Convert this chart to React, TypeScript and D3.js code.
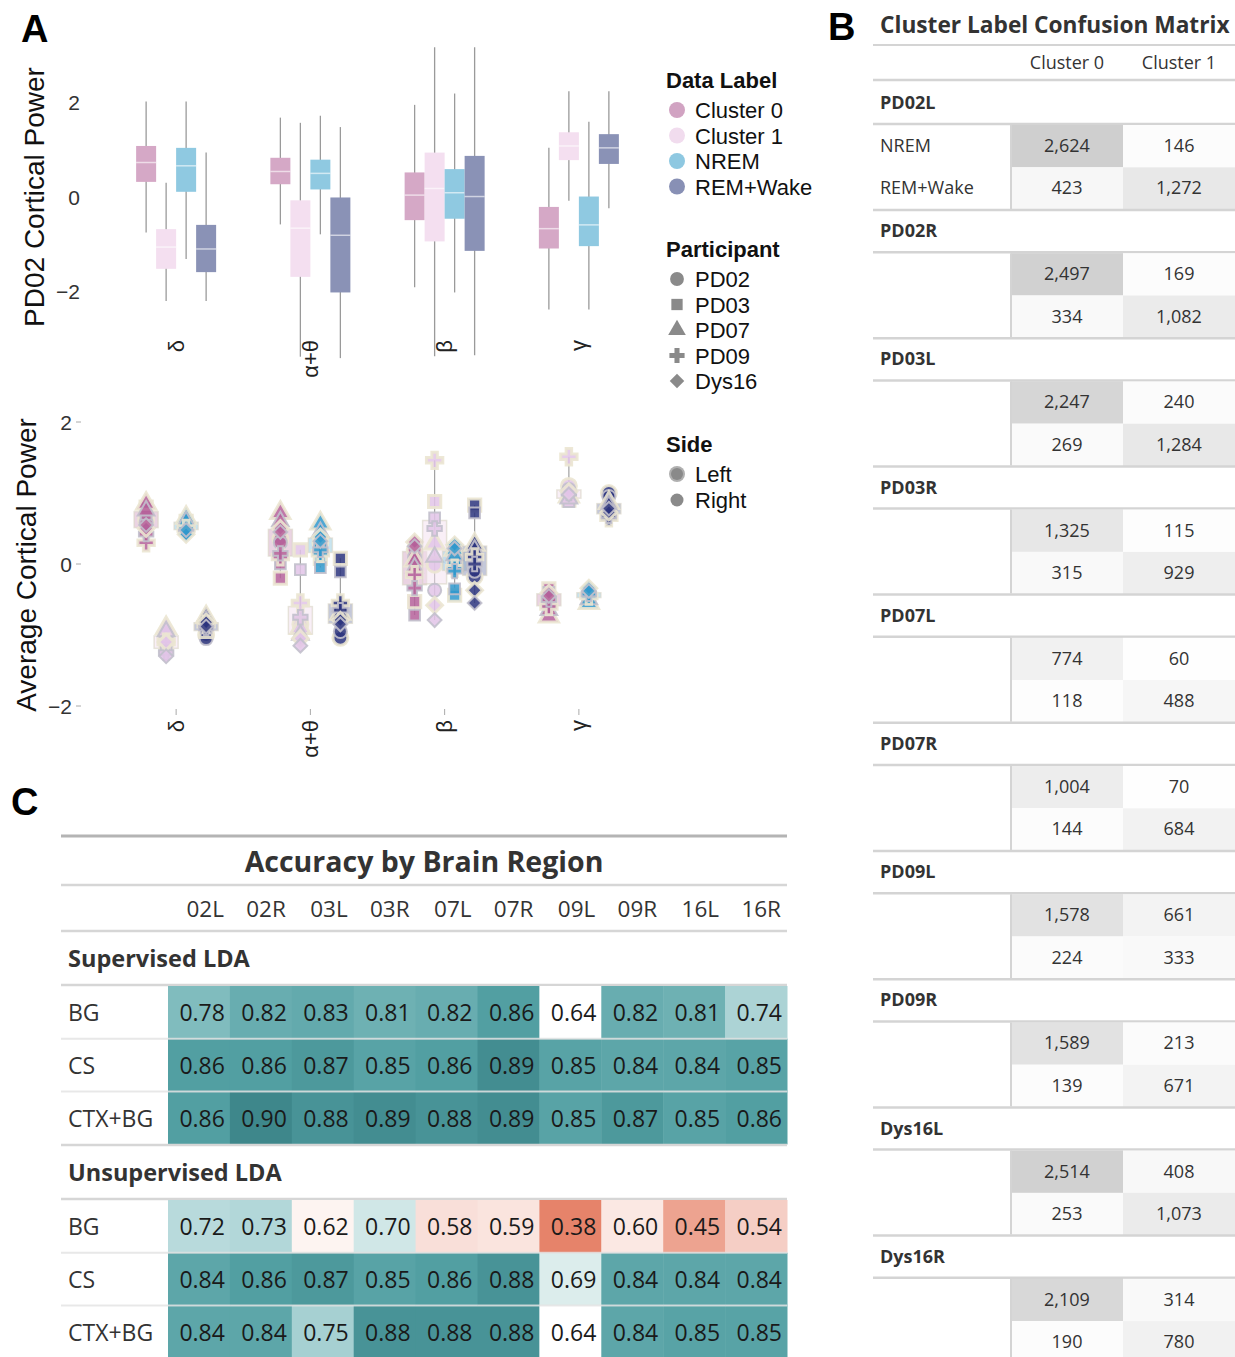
import React from "react";
import * as d3 from "d3";

// ---------- Panel A data ----------
const bands = ["δ", "α+θ", "β", "γ"];
const dataLabels = ["Cluster 0", "Cluster 1", "NREM", "REM+Wake"];
const participants = ["PD02", "PD03", "PD07", "PD09", "Dys16"];
const sides = ["Left", "Right"];
const topTicks = [-2, 0, 2];
const bottomTicks = [-2, 0, 2];

// box stats per band: [whiskerLow, q1, median, q3, whiskerHigh]
const cluster0Box = [[-0.75, 0.32, 0.73, 1.08, 2.02], [-0.58, 0.27, 0.54, 0.83, 1.68], [-1.91, -0.49, 0.04, 0.52, 1.95], [-2.38, -1.09, -0.67, -0.21, 1.04]];
const cluster1Box = [[-2.2, -1.52, -1.06, -0.68, 0.3], [-3.38, -1.69, -0.66, -0.07, 1.57], [-3.37, -0.94, 0.18, 0.94, 3.17], [-0.08, 0.78, 1.08, 1.37, 2.24]];
const nremBox = [[-1.31, 0.11, 0.66, 1.04, 2.02], [-0.79, 0.16, 0.5, 0.79, 1.72], [-2.02, -0.46, 0.09, 0.59, 2.19], [-2.38, -1.04, -0.59, 0.01, 1.59]];
const remBox = [[-2.2, -1.59, -1.1, -0.59, 0.94], [-3.41, -2.02, -0.81, -0.01, 1.48], [-3.35, -1.14, 0.01, 0.87, 3.17], [-0.24, 0.7, 1.04, 1.33, 2.24]];

// averages per band, order: PD02L, PD02R, PD03L, PD03R, PD07L, PD07R, PD09L, PD09R, Dys16L, Dys16R
const cluster0Pts = [
  [0.62, 0.58, 0.8, 0.7, 0.85, 0.75, 0.3, 0.42, 0.5, 0.55],
  [0.35, 0.3, -0.2, 0.0, 0.72, 0.6, 0.1, 0.15, 0.5, 0.45],
  [0.2, 0.1, -0.53, -0.72, 0.05, -0.05, -0.15, -0.34, 0.31, 0.25],
  [-0.5, -0.55, -0.35, -0.4, -0.74, -0.65, -0.6, -0.5, -0.41, -0.45],
];
const cluster1Pts = [
  [-1.0, -1.05, -1.15, -1.2, -0.9, -0.95, -1.1, -1.25, -1.1, -1.3],
  [-0.85, -0.95, 0.2, -0.08, -0.9, -1.0, -0.55, -0.75, -1.05, -1.15],
  [-0.01, -0.37, 0.88, 0.65, 0.29, 0.1, 1.46, 0.5, -0.58, -0.79],
  [1.1, 1.05, 0.9, 0.88, 0.95, 0.92, 1.51, 1.0, 1.02, 0.98],
];
const nremPts = [
  [0.55, 0.5, 0.6, 0.55, 0.65, 0.6, 0.5, 0.45, 0.42, 0.48],
  [0.3, 0.25, 0.08, -0.05, 0.57, 0.45, 0.15, 0.2, 0.38, 0.32],
  [0.05, 0.0, -0.44, -0.35, 0.2, 0.12, -0.06, -0.1, 0.27, 0.22],
  [-0.45, -0.48, -0.42, -0.4, -0.55, -0.5, -0.45, -0.42, -0.34, -0.38],
];
const remPts = [
  [-1.0, -1.05, -0.95, -0.9, -0.75, -0.8, -0.85, -0.9, -0.82, -0.88],
  [-1.04, -0.95, 0.08, -0.11, -0.7, -0.6, -0.55, -0.65, -0.79, -0.85],
  [-0.18, -0.1, 0.83, 0.72, 0.27, 0.2, 0.1, 0.0, -0.37, -0.55],
  [1.0, 0.95, 0.75, 0.7, 0.86, 0.82, 0.65, 0.68, 0.73, 0.78],
];

// ---------- Panel B data ----------
const matrixGroups = ["PD02L", "PD02R", "PD03L", "PD03R", "PD07L", "PD07R", "PD09L", "PD09R", "Dys16L", "Dys16R"];
const matrixRows = ["NREM", "REM+Wake"];
const matrixCols = ["Cluster 0", "Cluster 1"];
const nremCounts = [[2624, 146], [2497, 169], [2247, 240], [1325, 115], [774, 60], [1004, 70], [1578, 661], [1589, 213], [2514, 408], [2109, 314]];
const remWakeCounts = [[423, 1272], [334, 1082], [269, 1284], [315, 929], [118, 488], [144, 684], [224, 333], [139, 671], [253, 1073], [190, 780]];

// ---------- Panel C data ----------
const regions = ["02L", "02R", "03L", "03R", "07L", "07R", "09L", "09R", "16L", "16R"];
const methods = ["Supervised LDA", "Unsupervised LDA"];
const features = ["BG", "CS", "CTX+BG"];
const supBG = [0.78, 0.82, 0.83, 0.81, 0.82, 0.86, 0.64, 0.82, 0.81, 0.74];
const supCS = [0.86, 0.86, 0.87, 0.85, 0.86, 0.89, 0.85, 0.84, 0.84, 0.85];
const supCTX = [0.86, 0.9, 0.88, 0.89, 0.88, 0.89, 0.85, 0.87, 0.85, 0.86];
const unsBG = [0.72, 0.73, 0.62, 0.7, 0.58, 0.59, 0.38, 0.6, 0.45, 0.54];
const unsCS = [0.84, 0.86, 0.87, 0.85, 0.86, 0.88, 0.69, 0.84, 0.84, 0.84];
const unsCTX = [0.84, 0.84, 0.75, 0.88, 0.88, 0.88, 0.64, 0.84, 0.85, 0.85];

// ---------- styles ----------
const boxColors = ["#d5a8c6", "#f4dff0", "#8fc9e1", "#8a92b6"];
const markColors = ["#b5609a", "#e2c4e8", "#2f98cc", "#2b347e"];
const legendColors = ["#d1a3c2", "#f1dcee", "#8ec8e1", "#8890b5"];
const symbolTypes = [d3.symbolCircle, d3.symbolSquare, d3.symbolTriangle, d3.symbolCross, d3.symbolSquare];
const symbolRot = [0, 0, 0, 0, 45];
const symbolScale = [1, 0.85, 0.9, 0.85, 0.7];
const fontA = "'Liberation Sans', Arial, sans-serif";
const fontB = "'Open Sans', 'Noto Sans', sans-serif";

const boxData = [cluster0Box, cluster1Box, nremBox, remBox];
const ptsData = [cluster0Pts, cluster1Pts, nremPts, remPts];

const accColor = d3
  .scaleLinear<string>()
  .domain([0.38, 0.45, 0.54, 0.6, 0.64, 0.69, 0.72, 0.75, 0.78, 0.82, 0.86, 0.9])
  .range(["#e6836a", "#eda390", "#f5cec5", "#fbe8e3", "#ffffff", "#dcedec", "#b8dadc", "#a6d0d2", "#80bcbe", "#68adb0", "#529fa2", "#3e878b"])
  .clamp(true);

function PanelA() {
  const xBand = d3.scaleBand().domain(bands).range([109, 646]);
  const xSub = d3.scaleBand().domain(dataLabels).range([-40, 40]);
  const yTop = d3.scaleLinear().domain([-2, 2]).range([291.5, 102.5]);
  const yBot = d3.scaleLinear().domain([-2, 2]).range([706, 422]);
  const fmt = d3.format("d");
  const bw = xSub.bandwidth();
  const cxOf = (b: string, l: string) => (xBand(b) as number) + xBand.bandwidth() / 2 + (xSub(l) as number) + bw / 2;
  const bandC = (b: string) => (xBand(b) as number) + xBand.bandwidth() / 2;

  return (
    <g fontFamily={fontA}>
      <text x={21} y={42} fontSize={38} fontWeight="bold" fill="#000">A</text>
      {/* top y label */}
      <text transform={`translate(44,197) rotate(-90)`} textAnchor="middle" fontSize={28} fill="#111">PD02 Cortical Power</text>
      {topTicks.map((t) => (
        <text key={t} x={80} y={yTop(t) + 7.5} textAnchor="end" fontSize={21} fill="#333">{fmt(t)}</text>
      ))}
      {/* boxes */}
      {dataLabels.map((l, li) =>
        bands.map((b, bi) => {
          const [lo, q1, med, q3, hi] = boxData[li][bi];
          const cx = cxOf(b, l);
          return (
            <g key={l + b}>
              <line x1={cx} x2={cx} y1={yTop(hi)} y2={yTop(lo)} stroke="#9a9a9a" strokeWidth={1.3} />
              <rect x={cx - bw / 2} y={yTop(q3)} width={bw} height={yTop(q1) - yTop(q3)} fill={boxColors[li]} />
              <line x1={cx - bw / 2} x2={cx + bw / 2} y1={yTop(med)} y2={yTop(med)} stroke="#ffffff" strokeOpacity={0.6} strokeWidth={1.5} />
            </g>
          );
        })
      )}
      {bands.map((b) => (
        <text key={b} transform={`translate(${bandC(b)},340) rotate(-90)`} textAnchor="end" dominantBaseline="central" fontSize={22} fill="#222">{b}</text>
      ))}

      {/* bottom */}
      <text transform={`translate(36,565) rotate(-90)`} textAnchor="middle" fontSize={28} fill="#111">Average Cortical Power</text>
      {bottomTicks.map((t) => (
        <g key={t}>
          <text x={72} y={yBot(t) + 7.5} textAnchor="end" fontSize={21} fill="#333">{fmt(t)}</text>
          <line x1={76} x2={81} y1={yBot(t)} y2={yBot(t)} stroke="#aaa" strokeWidth={1} />
        </g>
      ))}
      {bands.map((b) => (
        <g key={b}>
          <line x1={bandC(b)} x2={bandC(b)} y1={709} y2={715} stroke="#aaa" strokeWidth={1} />
          <text transform={`translate(${bandC(b)},720) rotate(-90)`} textAnchor="end" dominantBaseline="central" fontSize={22} fill="#222">{b}</text>
        </g>
      ))}
      {dataLabels.map((l, li) =>
        bands.map((b, bi) => {
          const pts = ptsData[li][bi];
          const sorted = [...pts].sort(d3.ascending);
          const q1 = d3.quantile(sorted, 0.25) as number;
          const q3 = d3.quantile(sorted, 0.75) as number;
          const cx = cxOf(b, l);
          return (
            <g key={l + b}>
              <line x1={cx} x2={cx} y1={yBot(d3.max(pts) as number)} y2={yBot(d3.min(pts) as number)} stroke="#a0a0a0" strokeWidth={1.2} />
              <rect x={cx - 12} y={yBot(q3)} width={24} height={yBot(q1) - yBot(q3)} fill={boxColors[li]} fillOpacity={0.5} stroke="#d8d4c4" strokeOpacity={0.6} strokeWidth={1.5} />
              {pts.map((v, i) => {
                const pi = Math.floor(i / 2);
                const left = i % 2 === 0;
                const path = d3.symbol().type(symbolTypes[pi]).size((left ? 175 : 135) * symbolScale[pi])() as string;
                return (
                  <path
                    key={i}
                    d={path}
                    transform={`translate(${cx},${yBot(v)}) rotate(${symbolRot[pi]})`}
                    fill={markColors[li]}
                    fillOpacity={0.85}
                    stroke={left ? "#ebe5d2" : "#c2c0cc"}
                    strokeWidth={left ? 3 : 2}
                    strokeOpacity={0.9}
                  />
                );
              })}
            </g>
          );
        })
      )}

      {/* legend */}
      <g>
        <text x={666} y={88} fontSize={22} fontWeight="bold" fill="#111">Data Label</text>
        {dataLabels.map((l, i) => {
          const y = 110 + i * 25.5;
          return (
            <g key={l}>
              <circle cx={677} cy={y} r={8} fill={legendColors[i]} />
              <text x={695} y={y + 8} fontSize={22} fill="#111">{l}</text>
            </g>
          );
        })}
        <text x={666} y={257} fontSize={22} fontWeight="bold" fill="#111">Participant</text>
        {participants.map((p, i) => {
          const y = 279 + i * 25.5;
          const path = d3.symbol().type(symbolTypes[i]).size(150 * symbolScale[i])() as string;
          return (
            <g key={p}>
              <path d={path} transform={`translate(677,${y}) rotate(${symbolRot[i]})`} fill="#8a8a8a" />
              <text x={695} y={y + 8} fontSize={22} fill="#111">{p}</text>
            </g>
          );
        })}
        <text x={666} y={452} fontSize={22} fontWeight="bold" fill="#111">Side</text>
        {sides.map((s, i) => {
          const y = 474 + i * 26;
          return (
            <g key={s}>
              {i === 0 ? (
                <>
                  <circle cx={677} cy={y} r={8} fill="#b0b0b0" />
                  <circle cx={677} cy={y} r={6} fill="#8a8a8a" />
                </>
              ) : (
                <circle cx={677} cy={y} r={6.5} fill="#8a8a8a" />
              )}
              <text x={695} y={y + 8} fontSize={22} fill="#111">{s}</text>
            </g>
          );
        })}
      </g>
    </g>
  );
}

function PanelB() {
  const left = 873;
  const right = 1235;
  const colX = d3.scaleBand().domain(matrixCols).range([1011, 1235]);
  const blockY = d3.scaleBand().domain(matrixGroups).range([81, 81 + 128.2 * matrixGroups.length]);
  const allVals = [...nremCounts.flat(), ...remWakeCounts.flat()];
  const grey = d3.scaleLinear<string>().domain([0, d3.max(allVals) as number]).range(["#ffffff", "#cfcfcf"]);
  const fmt = d3.format(",");
  const lineC = "#d4d4d4";
  return (
    <g fontFamily={fontB}>
      <text x={828} y={40} fontSize={38} fontWeight="bold" fill="#000" fontFamily={fontA}>B</text>
      <text x={880} y={33} fontSize={22.7} fontWeight="bold" fill="#333">Cluster Label Confusion Matrix</text>
      <line x1={left} x2={right} y1={45} y2={45} stroke={lineC} strokeWidth={2} />
      {matrixCols.map((c) => (
        <text key={c} x={(colX(c) as number) + colX.bandwidth() / 2} y={69} textAnchor="middle" fontSize={18} fill="#333">{c}</text>
      ))}
      <line x1={left} x2={right} y1={80} y2={80} stroke={lineC} strokeWidth={2.5} />
      {matrixGroups.map((g, gi) => {
        const y0 = blockY(g) as number;
        const rows = [nremCounts[gi], remWakeCounts[gi]];
        return (
          <g key={g}>
            <text x={880} y={y0 + 28} fontSize={18} fontWeight="bold" fill="#333">{g}</text>
            <line x1={left} x2={right} y1={y0 + 43} y2={y0 + 43} stroke={lineC} strokeWidth={2.5} />
            {rows.map((vals, ri) => {
              const ry = y0 + 44 + ri * 42.3;
              return (
                <g key={ri}>
                  {gi === 0 && (
                    <text x={880} y={ry + 27} fontSize={18} fill="#333">{matrixRows[ri]}</text>
                  )}
                  {matrixCols.map((c, ci) => (
                    <g key={c}>
                      <rect x={colX(c) as number} y={ry} width={colX.bandwidth()} height={42.3} fill={grey(vals[ci])} />
                      <text x={(colX(c) as number) + colX.bandwidth() / 2} y={ry + 27} textAnchor="middle" fontSize={18} fill="#333">{fmt(vals[ci])}</text>
                    </g>
                  ))}
                </g>
              );
            })}
            <line x1={1011} x2={1011} y1={y0 + 44} y2={y0 + 128} stroke={lineC} strokeWidth={2} />
            <line x1={left} x2={right} y1={y0 + 129} y2={y0 + 129} stroke={lineC} strokeWidth={2.5} />
          </g>
        );
      })}
    </g>
  );
}

function PanelC() {
  const left = 61;
  const right = 787;
  const colX = d3.scaleBand().domain(regions).range([168, 787]);
  const sectionData = [
    [supBG, supCS, supCTX],
    [unsBG, unsCS, unsCTX],
  ];
  const sectionTop = [931, 1145];
  const rowH = 52.8;
  const lineC = "#d6d6d6";
  return (
    <g fontFamily={fontB}>
      <text x={11} y={815} fontSize={38} fontWeight="bold" fill="#000" fontFamily={fontA}>C</text>
      <line x1={left} x2={right} y1={836} y2={836} stroke="#b4b4b4" strokeWidth={3} />
      <text x={424} y={872} textAnchor="middle" fontSize={28.5} fontWeight="bold" fill="#333">Accuracy by Brain Region</text>
      <line x1={left} x2={right} y1={885} y2={885} stroke={lineC} strokeWidth={2.5} />
      {regions.map((r) => (
        <text key={r} x={(colX(r) as number) + colX.bandwidth() - 6} y={917} textAnchor="end" fontSize={22.5} fill="#333">{r}</text>
      ))}
      {methods.map((m, mi) => {
        const t = sectionTop[mi];
        return (
          <g key={m}>
            <line x1={left} x2={right} y1={t} y2={t} stroke={lineC} strokeWidth={2.5} />
            <text x={68} y={t + 36} fontSize={23.5} fontWeight="bold" fill="#333">{m}</text>
            <line x1={left} x2={right} y1={t + 54} y2={t + 54} stroke={lineC} strokeWidth={2.5} />
            {features.map((f, fi) => {
              const ry = t + 55 + fi * rowH;
              const vals = sectionData[mi][fi];
              return (
                <g key={f}>
                  {regions.map((r, ci) => (
                    <rect key={r} x={colX(r) as number} y={ry} width={colX.bandwidth() + 0.5} height={rowH} fill={accColor(vals[ci])} />
                  ))}
                  <text x={68} y={ry + 35} fontSize={23} fill="#333">{f}</text>
                  {regions.map((r, ci) => (
                    <text key={r} x={(colX(r) as number) + colX.bandwidth() - 5} y={ry + 35} textAnchor="end" fontSize={23} fill="#1a1a1a">{vals[ci].toFixed(2)}</text>
                  ))}
                  {fi > 0 && <line x1={left} x2={right} y1={ry} y2={ry} stroke="#e2e2e2" strokeOpacity={0.8} strokeWidth={2} />}
                </g>
              );
            })}
          </g>
        );
      })}
    </g>
  );
}

export default function App() {
  return (
    <svg width={1235} height={1357} style={{ position: "absolute", left: 0, top: 0, background: "#fff" }} xmlns="http://www.w3.org/2000/svg">
      <rect width={1235} height={1357} fill="#fff" />
      <PanelA />
      <PanelB />
      <PanelC />
    </svg>
  );
}
